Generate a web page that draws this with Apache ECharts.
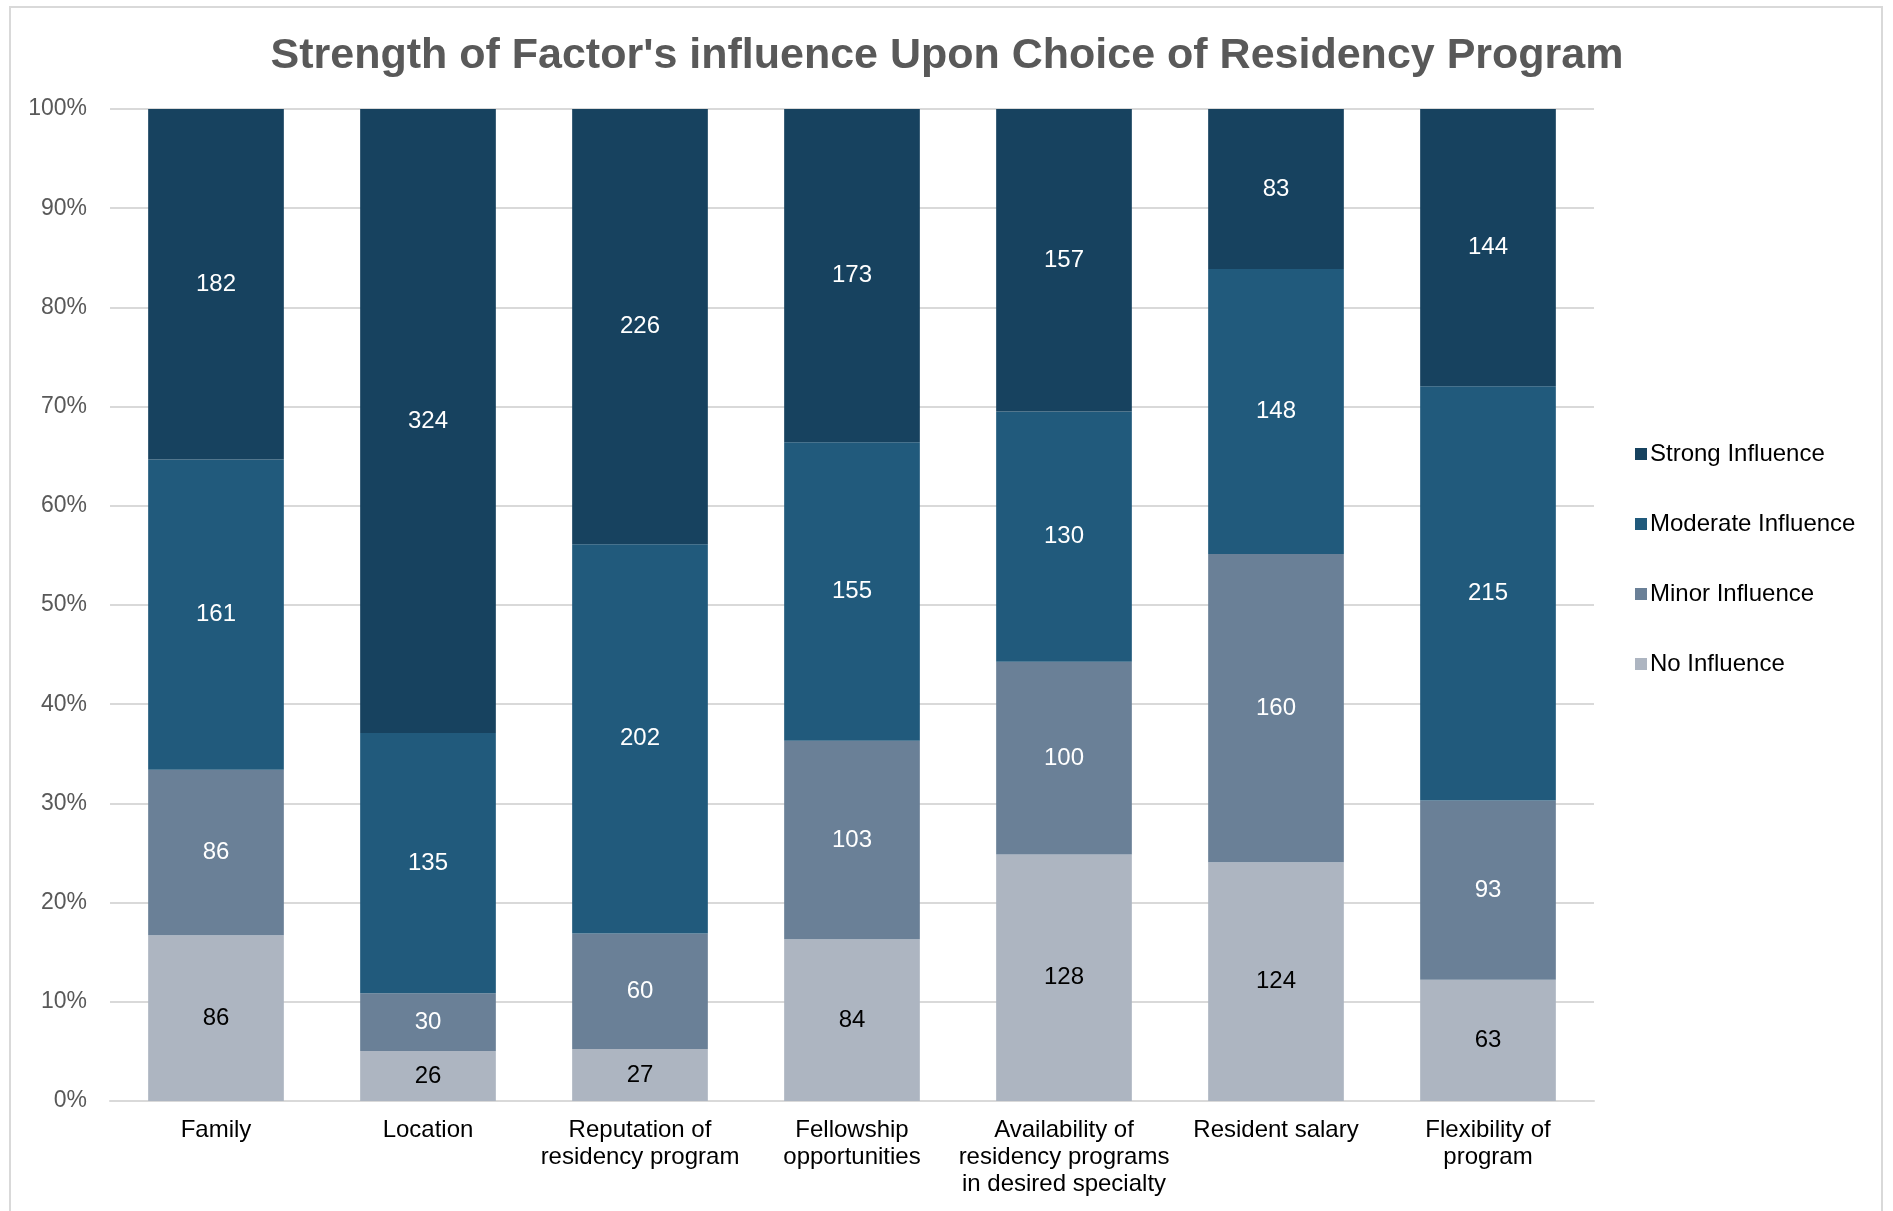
<!DOCTYPE html>
<html>
<head>
<meta charset="utf-8">
<script src="https://cdn.jsdelivr.net/npm/echarts@6/dist/echarts.min.js"></script>
<style>
  html, body { margin: 0; padding: 0; background: #fff; }
  #chart { position: absolute; left: 0; top: 0; width: 1893px; height: 1211px; }
  .frame {
    position: absolute; left: 9px; top: 6px; width: 1874px; height: 1210px;
    border: 2px solid #d9d9d9; pointer-events: none; box-sizing: border-box;
  }
</style>
</head>
<body>
<div id="chart"></div>
<div class="frame"></div>
<script>
// categories along the x axis
const categories = [
  'Family',
  'Location',
  'Reputation of\nresidency program',
  'Fellowship\nopportunities',
  'Availability of\nresidency programs\nin desired specialty',
  'Resident salary',
  'Flexibility of\nprogram'
]
// counts per influence level (bottom to top)
const noInfluence = [86, 26, 27, 84, 128, 124, 63]
const minorInfluence = [86, 30, 60, 103, 100, 160, 93]
const moderateInfluence = [161, 135, 202, 155, 130, 148, 215]
const strongInfluence = [182, 324, 226, 173, 157, 83, 144]
const yTicks = [0, 10, 20, 30, 40, 50, 60, 70, 80, 90, 100]

const totals = categories.map((c, i) =>
  noInfluence[i] + minorInfluence[i] + moderateInfluence[i] + strongInfluence[i])

// share of each count in its column, keep the count for the label
const toShare = (arr) => arr.map((v, i) => ({ value: v / totals[i] * 100, count: v }))

const makeSeries = (name, arr, color, labelColor) => ({
  name: name,
  type: 'bar',
  stack: 'total',
  barWidth: '64%',
  data: toShare(arr),
  itemStyle: { color: color },
  label: {
    show: true,
    position: 'inside',
    color: labelColor,
    fontFamily: 'Liberation Sans',
    fontSize: 24,
    formatter: (p) => p.data.count
  }
})

const chart = echarts.init(document.getElementById('chart'))
const option = {
  animation: false,
  title: {
    text: "Strength of Factor's influence Upon Choice of Residency Program",
    left: 942,
    textAlign: 'center',
    top: 30,
    textStyle: {
      color: '#595959',
      fontFamily: 'Liberation Sans',
      fontWeight: 'bold',
      fontSize: 43
    }
  },
  legend: {
    orient: 'vertical',
    left: 1630,
    top: 437,
    itemWidth: 12,
    itemHeight: 12,
    itemGap: 46,
    icon: 'rect',
    data: ['Strong Influence', 'Moderate Influence', 'Minor Influence', 'No Influence'],
    textStyle: {
      color: '#000',
      fontFamily: 'Liberation Sans',
      fontSize: 24,
      padding: [0, 0, 0, -2]
    }
  },
  grid: {
    left: 110,
    right: 299,
    top: 109,
    bottom: 110
  },
  xAxis: {
    type: 'category',
    data: categories,
    axisTick: { show: false },
    axisLine: { lineStyle: { color: '#d9d9d9', width: 2 } },
    axisLabel: {
      color: '#000',
      fontFamily: 'Liberation Sans',
      fontSize: 24,
      lineHeight: 27,
      margin: 16,
      interval: 0
    }
  },
  yAxis: {
    type: 'value',
    min: yTicks[0],
    max: yTicks[yTicks.length - 1],
    interval: 10,
    axisLine: { show: false },
    axisTick: { show: false },
    splitLine: { lineStyle: { color: '#d9d9d9', width: 2 } },
    axisLabel: {
      color: '#595959',
      fontFamily: 'Liberation Sans',
      fontSize: 23,
      margin: 23,
      formatter: '{value}%'
    }
  },
  series: [
    makeSeries('No Influence', noInfluence, '#adb5c1', '#000'),
    makeSeries('Minor Influence', minorInfluence, '#6a8097', '#fff'),
    makeSeries('Moderate Influence', moderateInfluence, '#215a7c', '#fff'),
    makeSeries('Strong Influence', strongInfluence, '#17425f', '#fff')
  ]
}
chart.setOption(option)
</script>
</body>
</html>
